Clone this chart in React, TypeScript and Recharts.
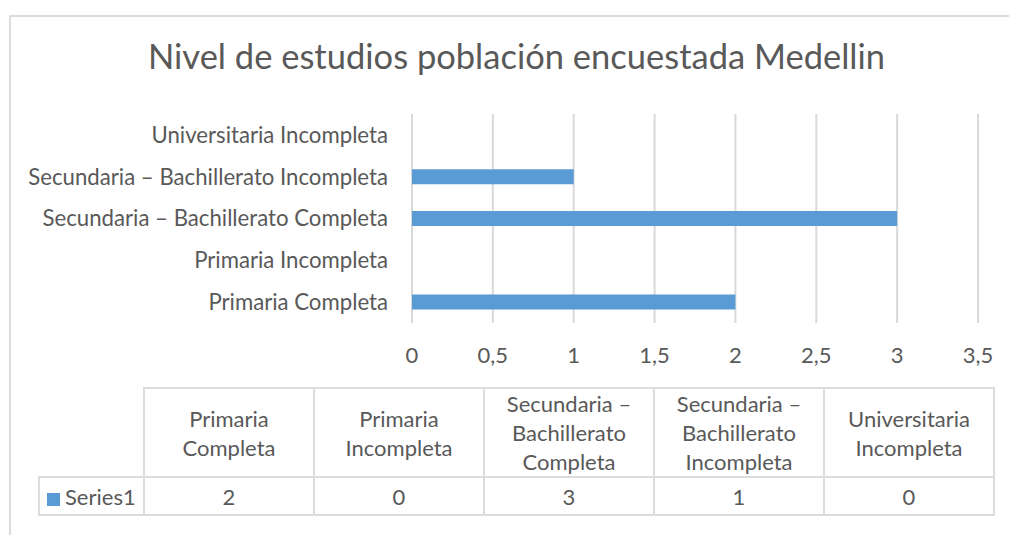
import React from 'react';
import { BarChart, Bar, XAxis, YAxis, CartesianGrid } from 'recharts';

const categories: string[] = [
  'Primaria Completa',
  'Primaria Incompleta',
  'Secundaria – Bachillerato Completa',
  'Secundaria – Bachillerato Incompleta',
  'Universitaria Incompleta',
];
const series1: number[] = [2, 0, 3, 1, 0];
const xTicks: number[] = [0, 0.5, 1, 1.5, 2, 2.5, 3, 3.5];
const tableHeaders: string[][] = [
  ['Primaria', 'Completa'],
  ['Primaria', 'Incompleta'],
  ['Secundaria –', 'Bachillerato', 'Completa'],
  ['Secundaria –', 'Bachillerato', 'Incompleta'],
  ['Universitaria', 'Incompleta'],
];
const seriesName = 'Series1';
const title = 'Nivel de estudios población encuestada Medellin';

const data = categories.map((c, i) => ({ name: c, value: series1[i] }));

const FONT = 'Lato, "Noto Sans", sans-serif';
const TEXT = '#595959';
const GRID = '#d9d9d9';
const BAR = '#5b9bd5';

export default function App() {
  const border = `2px solid #dcdcdc`;
  return (
    <div style={{ position: 'absolute', left: 0, top: 0, width: 1009, height: 535, background: '#fff', overflow: 'hidden', fontFamily: FONT }}>
      <div style={{ position: 'absolute', left: 9, top: 15, width: 1100, height: 600, borderTop: border, borderLeft: border, boxSizing: 'border-box' }} />
      <div style={{ position: 'absolute', left: 0, top: 35, width: 1033, textAlign: 'center', fontSize: 34.5, lineHeight: '41px', color: TEXT, whiteSpace: 'nowrap' }}>
        {title}
      </div>
      <div style={{ position: 'absolute', left: 0, top: 0 }}>
        <BarChart
          width={1009}
          height={535}
          data={data}
          layout="vertical"
          margin={{ top: 114, right: 31, bottom: 172, left: 12 }}
          barCategoryGap="32%"
        >
          <CartesianGrid horizontal={false} vertical={true} stroke={GRID} strokeWidth={2} />
          <XAxis
            type="number"
            domain={[0, 3.5]}
            ticks={xTicks}
            interval={0}
            axisLine={false}
            tickLine={false}
            tickSize={0}
            tickMargin={24}
            height={40}
            tickFormatter={(v: number) => String(v).replace('.', ',')}
            tick={{ fill: TEXT, fontSize: 22, fontFamily: FONT }}
          />
          <YAxis
            type="category"
            dataKey="name"
            reversed
            width={400}
            axisLine={false}
            tickLine={false}
            tickSize={0}
            tickMargin={24}
            interval={0}
            tick={{ fill: TEXT, fontSize: 22.2, fontFamily: FONT }}
          />
          <Bar dataKey="value" fill={BAR} isAnimationActive={false} />
        </BarChart>
      </div>
      <table
        style={{
          position: 'absolute',
          left: 38,
          top: 387,
          width: 955,
          borderCollapse: 'collapse',
          tableLayout: 'fixed',
          fontFamily: FONT,
          fontSize: 22,
          color: TEXT,
        }}
      >
        <colgroup>
          <col style={{ width: 105 }} />
          {categories.map((c) => (
            <col key={c} style={{ width: 170 }} />
          ))}
        </colgroup>
        <tbody>
          <tr style={{ height: 88 }}>
            <td style={{ border: 'none', padding: 0 }} />
            {tableHeaders.map((lines, i) => (
              <td key={i} style={{ border, textAlign: 'center', verticalAlign: 'middle', padding: 0, lineHeight: '29px' }}>
                {lines.map((l, j) => (
                  <div key={j}>{l}</div>
                ))}
              </td>
            ))}
          </tr>
          <tr style={{ height: 38 }}>
            <td style={{ border, padding: 0, paddingLeft: 7, whiteSpace: 'nowrap', lineHeight: '29px' }}>
              <span style={{ display: 'inline-block', width: 13, height: 13, background: BAR, marginRight: 5, verticalAlign: '-1px' }} />
              {seriesName}
            </td>
            {series1.map((v, i) => (
              <td key={i} style={{ border, textAlign: 'center', padding: 0, lineHeight: '29px' }}>
                {v}
              </td>
            ))}
          </tr>
        </tbody>
      </table>
    </div>
  );
}
